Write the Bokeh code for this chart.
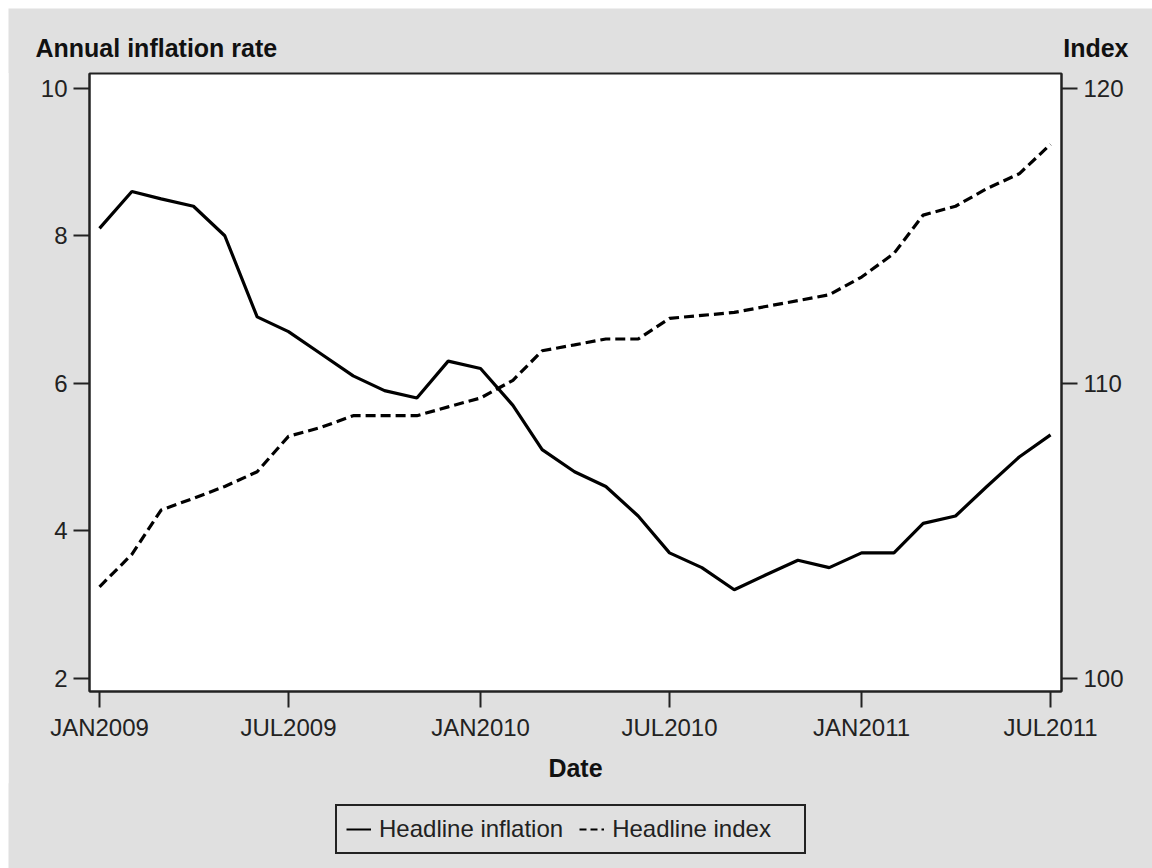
import pandas as pd
from bokeh.plotting import figure
from bokeh.models import (Range1d, LinearAxis, FixedTicker, Label, Legend,
                          LegendItem, ColumnDataSource)
from bokeh.embed import file_html
from bokeh.resources import INLINE

months = ["2009-01-01", "2009-02-01", "2009-03-01", "2009-04-01", "2009-05-01", "2009-06-01",
          "2009-07-01", "2009-08-01", "2009-09-01", "2009-10-01", "2009-11-01", "2009-12-01",
          "2010-01-01", "2010-02-01", "2010-03-01", "2010-04-01", "2010-05-01", "2010-06-01",
          "2010-07-01", "2010-08-01", "2010-09-01", "2010-10-01", "2010-11-01", "2010-12-01",
          "2011-01-01", "2011-02-01", "2011-03-01", "2011-04-01", "2011-05-01", "2011-06-01",
          "2011-07-01"]
inflation = [8.1, 8.6, 8.5, 8.4, 8.0, 6.9, 6.7, 6.4, 6.1, 5.9, 5.8, 6.3,
             6.2, 5.7, 5.1, 4.8, 4.6, 4.2, 3.7, 3.5, 3.2, 3.4, 3.6, 3.5,
             3.7, 3.7, 4.1, 4.2, 4.6, 5.0, 5.3]
headline_index = [103.1, 104.2, 105.7, 106.1, 106.5, 107.0, 108.2, 108.5, 108.9, 108.9, 108.9, 109.2,
                  109.5, 110.1, 111.1, 111.3, 111.5, 111.5, 112.2, 112.3, 112.4, 112.6, 112.8, 113.0,
                  113.6, 114.4, 115.7, 116.0, 116.6, 117.1, 118.1]
tick_dates = ["2009-01-01", "2009-07-01", "2010-01-01", "2010-07-01", "2011-01-01", "2011-07-01"]
tick_labels = ["JAN2009", "JUL2009", "JAN2010", "JUL2010", "JAN2011", "JUL2011"]
left_ticks = [2, 4, 6, 8, 10]
right_ticks = [100, 110, 120]
left_title = "Annual inflation rate"
right_title = "Index"
x_title = "Date"
series_names = ["Headline inflation", "Headline index"]


def ms(s):
    return pd.Timestamp(s).value // 10**6


DAY = 86400000
FONT = "Liberation Sans"
BG = "#e0e0e0"
INK = "#222222"
W = 1144
HEAD_H = 65
MAIN_H = 712
FOOT_H = 85


def strip(height, margin):
    f = figure(width=W, height=height, output_backend="svg", toolbar_location=None,
               x_range=Range1d(0, W), y_range=Range1d(0, height),
               x_axis_location=None, y_axis_location=None, min_border=0)
    f.background_fill_color = BG
    f.border_fill_color = BG
    f.outline_line_color = None
    f.xgrid.visible = False
    f.ygrid.visible = False
    f.margin = margin
    return f


src = ColumnDataSource(data=dict(x=[ms(m) for m in months], infl=inflation, idx=headline_index))

# ---- header strip carrying the two axis titles ----
head = strip(HEAD_H, (8, 0, 0, 8))
head.add_layout(Label(x=27, y=26, text=left_title, text_font=FONT, text_font_style="bold",
                      text_font_size="25px", text_color="#111111",
                      text_baseline="alphabetic", text_align="left"))
head.add_layout(Label(x=1120, y=26, text=right_title, text_font=FONT, text_font_style="bold",
                      text_font_size="25px", text_color="#111111",
                      text_baseline="alphabetic", text_align="right"))

# ---- main chart ----
p = figure(width=W, height=MAIN_H, output_backend="svg", toolbar_location=None,
           x_range=Range1d(ms(tick_dates[0]) - 9.6 * DAY, ms(tick_dates[-1]) + 10.5 * DAY),
           y_range=Range1d(1.82, 10.2),
           min_border_left=81, min_border_right=91, min_border_top=1, min_border_bottom=92)
p.margin = (-1, 0, 0, 8)
p.extra_y_ranges = {"idx": Range1d(100 + (1.82 - 2) * 2.5, 100 + (10.2 - 2) * 2.5)}

p.background_fill_color = "white"
p.border_fill_color = BG
p.outline_line_color = INK
p.outline_line_width = 2
p.xgrid.visible = False
p.ygrid.visible = False

r1 = p.line("x", "infl", source=src, line_color="black", line_width=3.2)
r2 = p.line("x", "idx", source=src, y_range_name="idx", line_color="black",
            line_width=3.2, line_dash="10 5")

right = LinearAxis(y_range_name="idx")
p.add_layout(right, "right")

p.xaxis.ticker = FixedTicker(ticks=[ms(d) for d in tick_dates])
p.xaxis.major_label_overrides = {ms(d): lab for d, lab in zip(tick_dates, tick_labels)}
p.yaxis[0].ticker = FixedTicker(ticks=left_ticks)
right.ticker = FixedTicker(ticks=right_ticks)

for ax in [p.xaxis[0], p.yaxis[0], right]:
    ax.major_tick_out = 16
    ax.major_tick_in = 0
    ax.minor_tick_out = 0
    ax.minor_tick_in = 0
    ax.axis_line_color = INK
    ax.axis_line_width = 2
    ax.major_tick_line_color = INK
    ax.major_tick_line_width = 2
    ax.major_label_text_font = FONT
    ax.major_label_text_font_size = "24px"
    ax.major_label_text_color = INK
    ax.major_label_standoff = 6

p.xaxis.axis_label = x_title
p.xaxis.axis_label_text_font = FONT
p.xaxis.axis_label_text_font_style = "bold"
p.xaxis.axis_label_text_font_size = "25px"
p.xaxis.axis_label_text_color = "#111111"
p.xaxis.axis_label_standoff = 10

# ---- footer strip carrying the legend (its key lines use the same data, outside view) ----
foot = strip(FOOT_H, (-1, 0, 0, 8))
k1 = foot.line("x", "infl", source=src, line_color="black", line_width=2)
k2 = foot.line("x", "idx", source=src, line_color="black", line_width=2, line_dash="7 4")
legend = Legend(items=[LegendItem(label=series_names[0], renderers=[k1]),
                       LegendItem(label=series_names[1], renderers=[k2])],
                orientation="horizontal", location=(327, 14))
legend.label_text_font = FONT
legend.label_text_font_size = "24px"
legend.label_text_color = INK
legend.label_width = 183
legend.glyph_width = 25
legend.glyph_height = 26
legend.label_standoff = 8
legend.spacing = 16
legend.padding = 9
legend.margin = 0
legend.border_line_color = INK
legend.border_line_alpha = 1.0
legend.border_line_width = 2
legend.background_fill_alpha = 0
foot.add_layout(legend, "center")

open("out.html", "w").write(file_html([head, p, foot], INLINE))
